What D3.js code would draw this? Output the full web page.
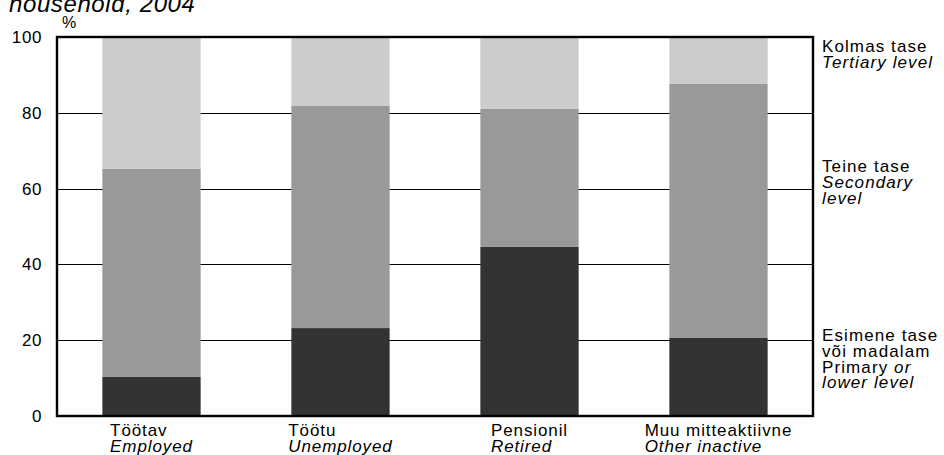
<!DOCTYPE html>
<html>
<head>
<meta charset="utf-8">
<script src="https://cdn.jsdelivr.net/npm/d3@7"></script>
<style>
  html, body { margin: 0; padding: 0; background: #fff; }
  svg { display: block; font-family: "Liberation Sans", Arial, sans-serif; }
</style>
</head>
<body>
<svg id="chart" width="944" height="455"></svg>
<script>
// ---- data ----
const categoriesEt = ["Töötav", "Töötu", "Pensionil", "Muu mitteaktiivne"];
const categoriesEn = ["Employed", "Unemployed", "Retired", "Other inactive"];
const primary   = [10.3, 23.2, 44.6, 20.7];
const secondary = [54.9, 58.6, 36.4, 66.9];
const tertiary  = [34.8, 18.2, 19.0, 12.4];
const yTicks = [0, 20, 40, 60, 80, 100];
const seriesNames = ["primary", "secondary", "tertiary"];
const legendLines = {
  tertiary:  [["Kolmas tase", false], ["Tertiary level", true]],
  secondary: [["Teine tase", false], ["Secondary", true], ["level", true]],
  primary:   [["Esimene tase", false], ["või madalam", false], ["Primary ", false, "or"], ["lower level", true]]
};
const colors = { primary: "#333333", secondary: "#999999", tertiary: "#cccccc" };

// ---- layout ----
const svg = d3.select("#chart");
const m = { left: 57, right: 131, top: 37, bottom: 39 };
const W = 944, H = 455;
const x = d3.scaleBand().domain(categoriesEt).range([m.left, W - m.right])
  .paddingInner(0.48).paddingOuter(0.24);
const y = d3.scaleLinear().domain([0, 100]).range([H - m.bottom, m.top]);

const rows = categoriesEt.map((c, i) => ({ cat: c, primary: primary[i], secondary: secondary[i], tertiary: tertiary[i] }));
const stacked = d3.stack().keys(seriesNames)(rows);

// title fragment (cropped at the top edge, as in the source)
svg.append("text").attr("x", 9).attr("y", 11.5)
  .attr("font-size", 24).attr("font-style", "italic").attr("letter-spacing", 0.6)
  .attr("fill", "#000").text("household, 2004");

// gridlines
svg.append("g").selectAll("line").data(yTicks.filter(t => t > 0 && t < 100)).join("line")
  .attr("x1", m.left).attr("x2", W - m.right)
  .attr("y1", d => Math.round(y(d)) + 0.5).attr("y2", d => Math.round(y(d)) + 0.5)
  .attr("stroke", "#000").attr("stroke-width", 1.2);

// bars
svg.append("g").selectAll("g").data(stacked).join("g")
  .attr("fill", d => colors[d.key])
  .selectAll("rect").data(d => d).join("rect")
  .attr("x", d => x(d.data.cat))
  .attr("width", x.bandwidth())
  .attr("y", d => y(d[1]))
  .attr("height", d => y(d[0]) - y(d[1]));

// frame
const fx0 = m.left, fx1 = W - m.right, fy0 = y(100), fy1 = y(0);
svg.append("rect").attr("x", fx0).attr("y", fy0).attr("width", fx1 - fx0).attr("height", fy1 - fy0)
  .attr("fill", "none").attr("stroke", "#000").attr("stroke-width", 2.4);

// y axis labels
const yAxis = d3.axisLeft(y).tickValues(yTicks).tickSize(0).tickPadding(15);
const gy = svg.append("g").attr("transform", `translate(${m.left},0)`).call(yAxis);
gy.select(".domain").remove();
gy.selectAll("text").attr("font-size", 17).attr("font-family", "Liberation Sans, Arial, sans-serif")
  .attr("fill", "#000").attr("letter-spacing", 0.6);

svg.append("text").attr("x", 62).attr("y", 28).attr("font-size", 16).text("%");

// category labels
const catG = svg.append("g");
categoriesEt.forEach((c, i) => {
  const g = catG.append("g");
  const t1 = g.append("text").attr("y", H - m.bottom + 20).attr("font-size", 17).attr("letter-spacing", 0.9).text(c);
  const t2 = g.append("text").attr("y", H - m.bottom + 36).attr("font-size", 17).attr("letter-spacing", 0.9)
    .attr("font-style", "italic").text(categoriesEn[i]);
  const w = Math.max(t1.node().getComputedTextLength(), t2.node().getComputedTextLength());
  const left = x(c) + x.bandwidth() / 2 - w / 2;
  t1.attr("x", left); t2.attr("x", left);
});

// right-side labels
const legG = svg.append("g");
const anchorVal = { tertiary: 100, secondary: 60, primary: 20 };
const anchorOff = { tertiary: 15, secondary: -16.5, primary: 1 };
seriesNames.forEach(k => {
  const baseY = y(anchorVal[k]) + anchorOff[k];
  legendLines[k].forEach((ln, j) => {
    const t = legG.append("text").attr("x", fx1 + 9).attr("y", baseY + j * 15.7)
      .attr("font-size", 17).attr("letter-spacing", 1.1)
      .attr("font-style", ln[1] ? "italic" : "normal");
    t.append("tspan").text(ln[0]);
    if (ln[2]) t.append("tspan").attr("font-style", "italic").text(ln[2]);
  });
});
</script>
</body>
</html>
